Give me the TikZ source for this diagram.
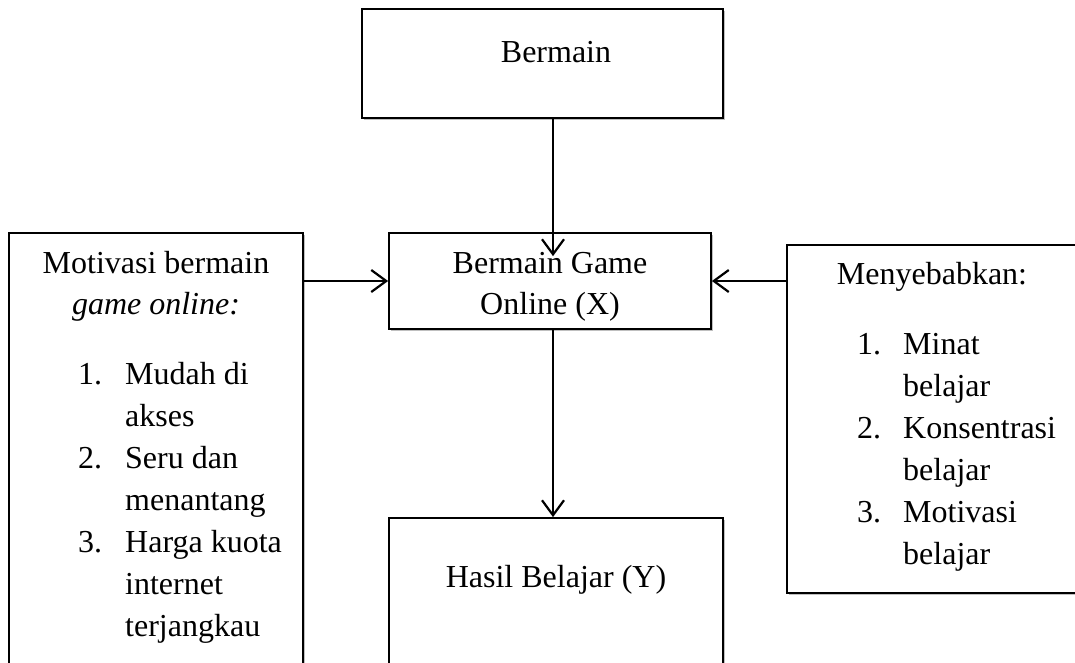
\documentclass[tikz,border=0pt]{standalone}
\usepackage{fontspec}
\setmainfont{Liberation Serif}
\usetikzlibrary{arrows.meta,shadows}

\begin{document}
\begin{tikzpicture}[
    x=1pt, y=-1pt,
    box/.style={draw, line width=1.8pt, fill=white, inner sep=0pt,
        drop shadow={shadow xshift=2pt, shadow yshift=-2pt,
                     fill=black, opacity=0.25}},
    txt/.style={inner sep=0pt, font={\fontsize{32}{38}\selectfont}},
    conn/.style={line width=2.2pt,
        -{Straight Barb[length=15pt, width=22pt, line width=2.2pt]}},
    ]

    % page size of the reference
    \useasboundingbox (0,0) rectangle (1075,662);
    \clip (0,0) rectangle (1075,662);

    % Boxes
    \node[box, minimum width=361pt, minimum height=109pt] (bermain) at (542.5,63.5) {};
    \node[box, minimum width=322pt, minimum height=96pt] (game) at (550,281) {};
    \node[box, minimum width=294pt, minimum height=450pt] (motiv) at (156,458) {};
    \node[box, minimum width=334pt, minimum height=160pt] (hasil) at (556,598) {};
    \node[box, minimum width=300pt, minimum height=348pt] (sebab) at (937,419) {};

    % Texts
    \node[txt, anchor=base] (tBermain) at (556,62) {Bermain};
    \node[txt, anchor=base] (tGame1) at (550,273) {Bermain Game};
    \node[txt, anchor=base] (tGame2) at (550,314) {Online (X)};
    \node[txt, anchor=base] (tHasil) at (556,587) {Hasil Belajar (Y)};

    \node[txt, anchor=base] (tMotiv1) at (156,273) {Motivasi bermain};
    \node[txt, anchor=base] (tMotiv2) at (156,314) {\itshape game online:};
    \foreach \n/\y in {1/384, 2/468, 3/552}
        \node[txt, anchor=base west] (mNum\n) at (78,\y) {\n.};
    \foreach \t/\y [count=\i] in {Mudah di/384, akses/426, Seru dan/468,
        menantang/510, Harga kuota/552, internet/594, terjangkau/636}
        \node[txt, anchor=base west] (mItem\i) at (125,\y) {\t};

    \node[txt, anchor=base] (tSebab) at (932,284) {Menyebabkan:};
    \foreach \n/\y in {1/354, 2/438, 3/522}
        \node[txt, anchor=base west] (sNum\n) at (857,\y) {\n.};
    \foreach \t/\y [count=\i] in {Minat/354, belajar/396, Konsentrasi/438,
        belajar/480, Motivasi/522, belajar/564}
        \node[txt, anchor=base west] (sItem\i) at (903,\y) {\t};

    % Connectors
    \draw[conn] ([xshift=3pt]game.north |- bermain.south) -- ([xshift=3pt,yshift=-24pt]game.north);
    \draw[conn] ([xshift=3pt]game.south) -- ([xshift=3pt]game.south |- hasil.north);
    \draw[conn] (motiv.east |- game.west) -- (game.west);
    \draw[conn] (sebab.west |- game.east) -- (game.east);
\end{tikzpicture}
\end{document}
